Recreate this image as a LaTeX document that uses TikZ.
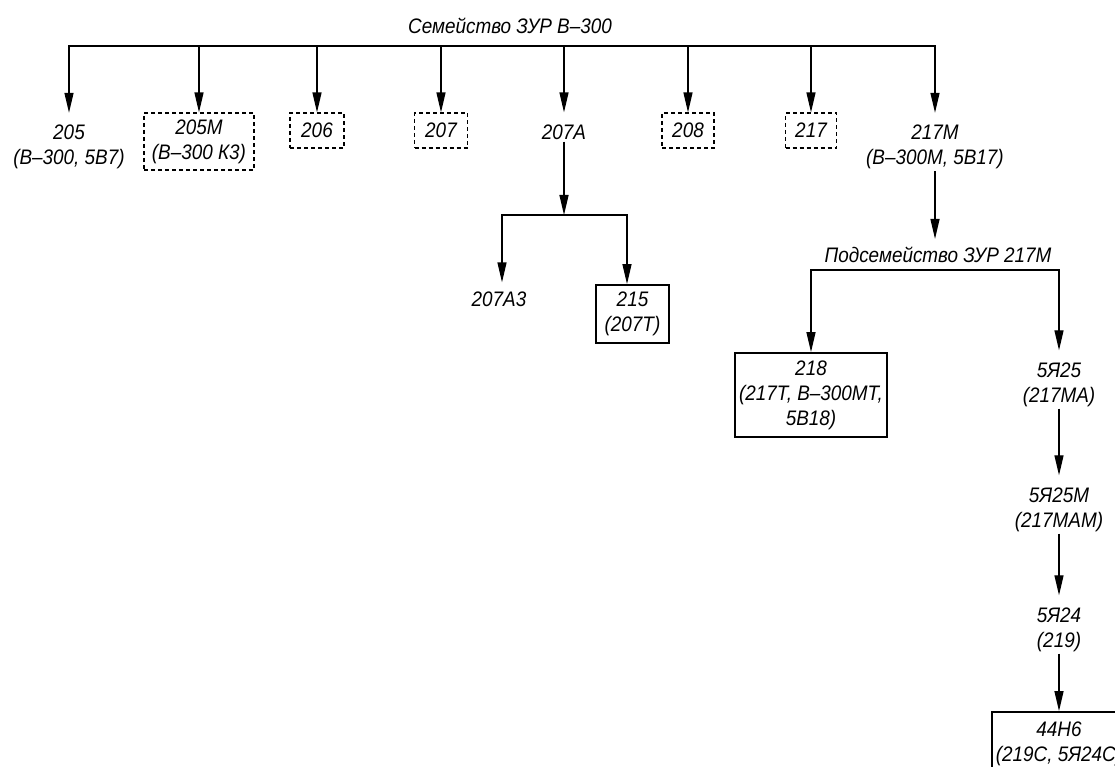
\documentclass[tikz,border=0pt]{standalone}
\usepackage{fontspec}
\setmainfont{Liberation Sans}[FakeStretch=0.9]
\usetikzlibrary{arrows.meta}

\begin{document}
\begin{tikzpicture}[
  x=1pt, y=-1pt,
  every node/.style={font=\fontsize{21}{25}\selectfont\itshape, align=center, inner sep=2pt},
  arr/.style={-{Triangle[length=20pt, width=9pt]}, line width=1.3pt},
  totxt/.style={arr, shorten >=10pt},
  bar/.style={line width=1.3pt, line cap=rect},
  dbox/.style={draw, line width=1.2pt, dash pattern=on 4pt off 3pt, inner xsep=4pt},
  sbox/.style={draw, line width=1.8pt, inner xsep=4pt}
]
\useasboundingbox (0,0) rectangle (1115,767);

\node (fam) at (510,26) {Семейство ЗУР В--300};
\node (n205) at (69,147) {205\\(В--300, 5В7)};
\node[dbox, minimum width=110pt, minimum height=57pt] (n205M) at (199,141.5) {205М\\(В--300 К3)};
\node[dbox, minimum width=54pt, minimum height=35pt] (n206) at (317,130.5) {206};
\node[dbox, minimum width=53pt, minimum height=35pt] (n207) at (441,130.5) {207};
\node (n207A) at (564,132) {207А};
\node[dbox, minimum width=52pt, minimum height=35pt] (n208) at (688,130.5) {208};
\node[dbox, minimum width=51pt, minimum height=35pt] (n217) at (811,130.5) {217};
\node (n217M) at (935,147) {217М\\(В--300М, 5В17)};

\coordinate (bL) at (69,46);
\coordinate (bR) at (935,46);
\draw[bar] (bL) -- (bR);
\foreach \n in {n205M,n206,n207,n208,n217}
  \draw[arr] (\n.north |- bL) -- (\n.north);
\foreach \n in {n205,n207A,n217M}
  \draw[totxt] (\n.north |- bL) -- (\n.north);

\node (n207A3) at (499,299) {207А3};
\node[sbox, minimum width=73pt, minimum height=58pt] (n215) at (632.5,314) {215\\(207Т)};
\coordinate (s207A3) at (502,215);
\coordinate (s215) at (627,215);
\draw[arr] (n207A) -- (n207A |- s207A3);
\draw[bar] (s207A3) -- (s215);
\draw[totxt, shorten >=7pt] (s207A3) -- (s207A3 |- n207A3.north);
\draw[arr] (s215) -- (s215 |- n215.north);

\node (sub) at (938,255) {Подсемейство ЗУР 217М};
\draw[totxt, shorten >=6pt] (n217M) -- (n217M |- sub.north);
\node[sbox, minimum width=152pt, minimum height=84pt] (n218) at (811,395) {218\\(217Т, В--300МТ,\\5В18)};
\node (n5Ya25) at (1059,384.5) {5Я25\\(217МА)};
\node (n5Ya25M) at (1059,509.5) {5Я25М\\(217МАМ)};
\node (n5Ya24) at (1059,629.5) {5Я24\\(219)};
\node[sbox, minimum width=132pt, minimum height=63pt] (n44H6) at (1059,743.5) {44Н6\\(219С, 5Я24С)};
\coordinate (s218) at (811,270);
\coordinate (s5Ya25) at (1059,270);
\draw[bar] (s218) -- (s5Ya25);
\draw[arr] (s218) -- (n218);
\draw[totxt] (s5Ya25) -- (n5Ya25);
\draw[totxt] (n5Ya25) -- (n5Ya25M);
\draw[totxt] (n5Ya25M) -- (n5Ya24);
\draw[arr] (n5Ya24) -- (n44H6);
\end{tikzpicture}
\end{document}
